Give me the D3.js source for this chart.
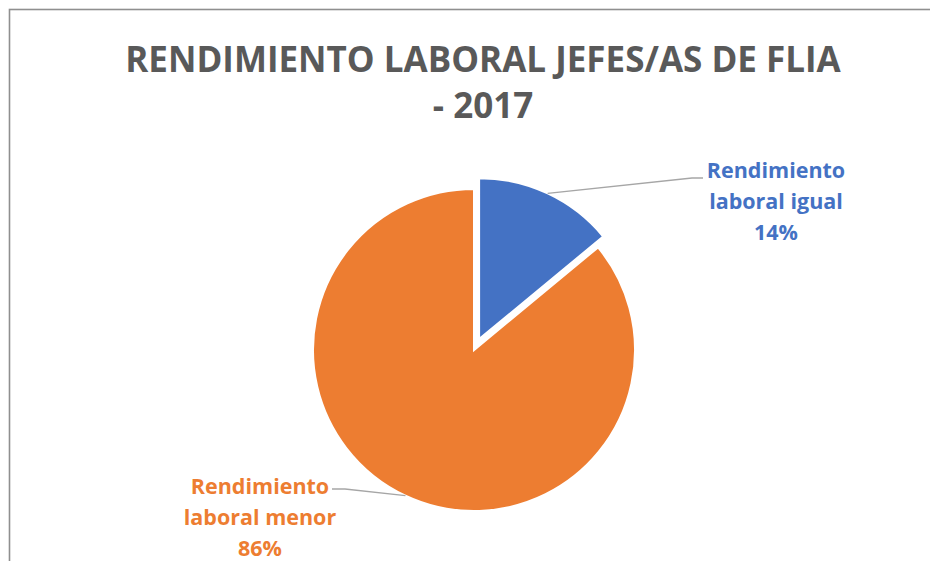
<!DOCTYPE html>
<html>
<head>
<meta charset="utf-8">
<script src="https://cdn.jsdelivr.net/npm/d3@7"></script>
<style>
    body { margin: 0; background: #fff; }
</style>
</head>
<body>
<div id="grafico"></div>
<script>
// Datos
const categorias = ["Rendimiento laboral igual", "Rendimiento laboral menor"];
const valores = [14, 86];
const colores = ["#4472C4", "#ED7D31"];
const titulo = ["RENDIMIENTO LABORAL JEFES/AS DE FLIA", "- 2017"];

const width = 930;
const height = 561;
const cx = 474, cy = 350, radio = 161;
const explosion = [12, 0]; // desplazamiento de cada porcion

const svg = d3.select("#grafico")
    .append("svg")
    .attr("width", width)
    .attr("height", height);

// marco del area del grafico
svg.append("rect")
    .attr("x", 9.5).attr("y", 9.5)
    .attr("width", 1000).attr("height", 1000)
    .attr("fill", "none")
    .attr("stroke", "#8f8f8f")
    .attr("stroke-width", 1.6);

// Titulo
svg.append("g").selectAll("text")
    .data(titulo)
    .enter()
    .append("text")
    .attr("x", 483)
    .attr("y", (d, i) => 72 + i * 46)
    .attr("text-anchor", "middle")
    .style("font-family", "'Open Sans', sans-serif")
    .style("font-weight", "bold")
    .style("font-size", "35px")
    .style("fill", "#595959")
    .text(d => d);

// Pie
const pie = d3.pie().sort(null).value(d => d);
const arcos = pie(valores);
const arc = d3.arc().innerRadius(0).outerRadius(radio);

const desplaz = (d, i) => {
    const a = (d.startAngle + d.endAngle) / 2;
    return [Math.sin(a) * explosion[i], -Math.cos(a) * explosion[i]];
};

svg.append("g")
    .attr("transform", `translate(${cx},${cy})`)
    .selectAll("path")
    .data(arcos)
    .enter()
    .append("path")
    .attr("transform", (d, i) => `translate(${desplaz(d, i)})`)
    .attr("d", arc)
    .attr("fill", (d, i) => colores[i])
    .attr("stroke", "#fff")
    .attr("stroke-width", 2);

// Etiquetas (posicion del bloque de texto y codo de la linea guia)
const etiquetaPos = [
    { x: 776, y: 178, codo: [692, 178], fin: [703, 178] },
    { x: 260, y: 494, codo: [345, 489], fin: [332, 489] }
];

const guias = svg.append("g");
arcos.forEach((d, i) => {
    const a = (d.startAngle + d.endAngle) / 2;
    const [dx, dy] = desplaz(d, i);
    const p0 = [cx + dx + Math.sin(a) * radio, cy + dy - Math.cos(a) * radio];
    const pos = etiquetaPos[i];
    guias.append("polyline")
        .attr("points", [p0, pos.codo, pos.fin].map(p => p.join(",")).join(" "))
        .attr("fill", "none")
        .attr("stroke", "#a6a6a6")
        .attr("stroke-width", 1.3);

    const partes = categorias[i].split(" ");
    const lineas = [partes[0], partes.slice(1).join(" "), valores[i] + "%"];
    svg.append("g").selectAll("text")
        .data(lineas)
        .enter()
        .append("text")
        .attr("x", pos.x)
        .attr("y", (t, j) => pos.y + j * 31)
        .attr("text-anchor", "middle")
        .style("font-family", "'Open Sans', sans-serif")
        .style("font-weight", "bold")
        .style("font-size", "21.5px")
        .style("fill", colores[i])
        .text(t => t);
});
</script>
</body>
</html>
